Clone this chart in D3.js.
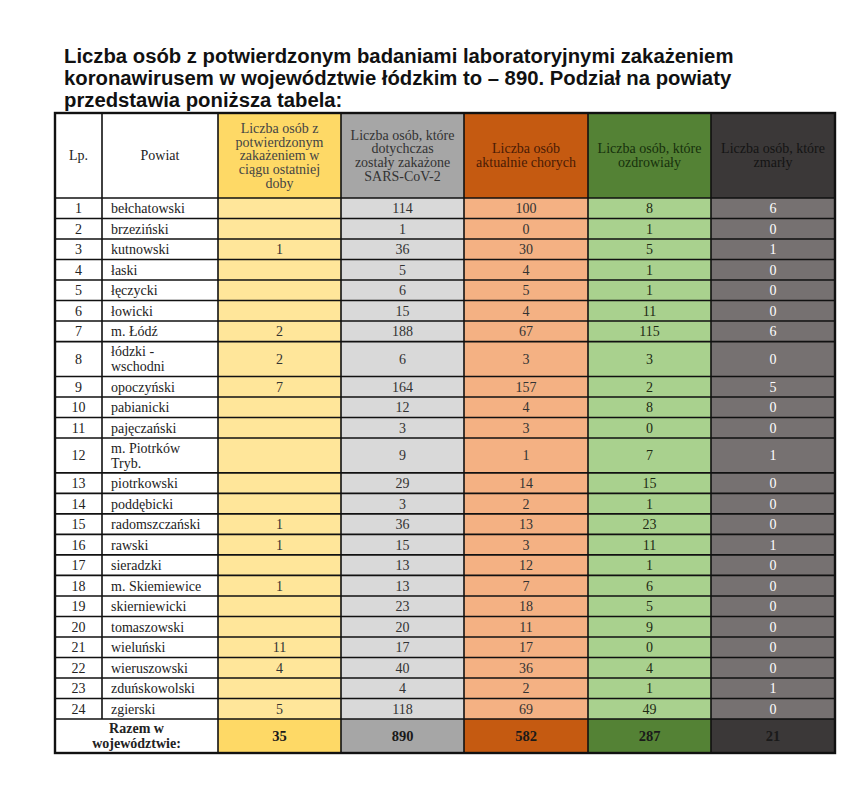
<!DOCTYPE html>
<html>
<head>
<meta charset="utf-8">
<script src="https://cdn.jsdelivr.net/npm/d3@7"></script>
<style>
  body { margin: 0; background: #fff; }
  svg { display: block; }
</style>
</head>
<body>
<svg width="852" height="790"></svg>
<script>
(function(){
	'use strict';

	// title lines
	const titleLines = [
		'Liczba osób z potwierdzonym badaniami laboratoryjnymi zakażeniem',
		'koronawirusem w województwie łódzkim to – 890. Podział na powiaty',
		'przedstawia poniższa tabela:'
	];

	// column headers (one entry per line)
	const headers = [
		['Lp.'],
		['Powiat'],
		['Liczba osób z', 'potwierdzonym', 'zakażeniem w', 'ciągu ostatniej', 'doby'],
		['Liczba osób, które', 'dotychczas', 'zostały zakażone', 'SARS-CoV-2'],
		['Liczba osób', 'aktualnie chorych'],
		['Liczba osób, które', 'ozdrowiały'],
		['Liczba osób, które', 'zmarły']
	];

	const powiaty = [
		'bełchatowski', 'brzeziński', 'kutnowski', 'łaski', 'łęczycki', 'łowicki',
		'm. Łódź', 'łódzki -|wschodni', 'opoczyński', 'pabianicki', 'pajęczański',
		'm. Piotrków|Tryb.', 'piotrkowski', 'poddębicki', 'radomszczański', 'rawski',
		'sieradzki', 'm. Skiemiewice', 'skierniewicki', 'tomaszowski', 'wieluński',
		'wieruszowski', 'zduńskowolski', 'zgierski'
	];
	const ostatniaDoba = [null, null, 1, null, null, null, 2, 2, 7, null, null, null,
		null, null, 1, 1, null, 1, null, null, 11, 4, null, 5];
	const zakazone = [114, 1, 36, 5, 6, 15, 188, 6, 164, 12, 3, 9, 29, 3, 36, 15, 13, 13, 23, 20, 17, 40, 4, 118];
	const chorzy = [100, 0, 30, 4, 5, 4, 67, 3, 157, 4, 3, 1, 14, 2, 13, 3, 12, 7, 18, 11, 17, 36, 2, 69];
	const ozdrowiali = [8, 1, 5, 1, 1, 11, 115, 3, 2, 8, 0, 7, 15, 1, 23, 11, 1, 6, 5, 9, 0, 4, 1, 49];
	const zmarli = [6, 0, 1, 0, 0, 0, 6, 0, 5, 0, 0, 1, 0, 0, 0, 1, 0, 0, 0, 0, 0, 0, 1, 0];
	const razem = [35, 890, 582, 287, 21];

	const svg = d3.select('svg');

	// layout
	const colEdges = [55, 102, 218, 341, 464, 588, 711, 835];
	const tableTop = 113;
	const headerBottom = 198;
	const bodyBottom = 719;
	const tableBottom = 753;

	const headFill = ['#fff', '#fff', '#fed966', '#a6a6a6', '#c55a11', '#548235', '#3b3838'];
	const bodyFill = ['#fff', '#fff', '#ffe69a', '#d9d9d9', '#f4b183', '#a9d18e', '#767171'];
	const headText = ['#222', '#222', '#444', '#333', '#4a1a05', '#16300c', '#141414'];
	const bodyText = ['#222', '#222', '#333', '#333', '#333', '#1e2a14', '#fff'];

	const serif = '"Liberation Serif", "Times New Roman", serif';

	// title
	svg.append('g')
		.selectAll('text')
		.data(titleLines)
		.join('text')
			.attr('x', 64)
			.attr('y', (d, i) => 63 + i * 22)
			.attr('font-family', '"Liberation Sans", Arial, sans-serif')
			.attr('font-weight', 'bold')
			.attr('font-size', 20.3)
			.attr('fill', '#111')
			.text(d => d);

	// rows: cumulative units so two-line names get taller rows
	const rows = powiaty.map((p, i) => ({
		lp: i + 1,
		lines: p.split('|'),
		vals: [ostatniaDoba[i], zakazone[i], chorzy[i], ozdrowiali[i], zmarli[i]],
		units: p.includes('|') ? 1.7 : 1
	}));
	let acc = 0;
	rows.forEach(r => { r.y0 = acc; acc += r.units; r.y1 = acc; });

	const y = d3.scaleLinear().domain([0, acc]).range([headerBottom, bodyBottom]);
	const colX = d3.scaleOrdinal().domain(d3.range(7)).range(colEdges.slice(0, 7));
	const colW = d3.scaleOrdinal().domain(d3.range(7)).range(d3.range(7).map(i => colEdges[i + 1] - colEdges[i]));
	const colMid = i => colX(i) + colW(i) / 2;

	// header cells
	const head = svg.append('g');
	head.selectAll('rect')
		.data(headers)
		.join('rect')
			.attr('x', (d, i) => colX(i))
			.attr('y', tableTop)
			.attr('width', (d, i) => colW(i))
			.attr('height', headerBottom - tableTop)
			.attr('fill', (d, i) => headFill[i]);

	head.selectAll('g.h')
		.data(headers)
		.join('g')
			.attr('class', 'h')
			.each(function(lines, i){
				const lh = 13.8;
				const cy = (tableTop + headerBottom) / 2;
				d3.select(this).selectAll('text')
					.data(lines)
					.join('text')
						.attr('x', colMid(i))
						.attr('y', (d, k) => cy + (k - (lines.length - 1) / 2) * lh + 4.8)
						.attr('text-anchor', 'middle')
						.attr('font-family', serif)
						.attr('font-size', 14)
						.attr('fill', headText[i])
						.text(d => d);
			});

	// body cells
	const body = svg.append('g');
	const rowG = body.selectAll('g.row')
		.data(rows)
		.join('g')
			.attr('class', 'row');

	rowG.selectAll('rect')
		.data(r => d3.range(7).map(i => ({ i, r })))
		.join('rect')
			.attr('x', d => colX(d.i))
			.attr('y', d => y(d.r.y0))
			.attr('width', d => colW(d.i))
			.attr('height', d => y(d.r.y1) - y(d.r.y0))
			.attr('fill', d => bodyFill[d.i]);

	const fs = 14;
	rowG.append('text')
		.attr('x', colMid(0))
		.attr('y', r => (y(r.y0) + y(r.y1)) / 2 + 4.9)
		.attr('text-anchor', 'middle')
		.attr('font-family', serif)
		.attr('font-size', fs)
		.attr('fill', bodyText[0])
		.text(r => r.lp);

	rowG.append('g')
		.each(function(r){
			const lh = 15;
			const cy = (y(r.y0) + y(r.y1)) / 2;
			d3.select(this).selectAll('text')
				.data(r.lines)
				.join('text')
					.attr('x', colX(1) + 9)
					.attr('y', (d, k) => cy + (k - (r.lines.length - 1) / 2) * lh + 4.9)
					.attr('font-family', serif)
					.attr('font-size', fs)
					.attr('fill', bodyText[1])
					.text(d => d);
		});

	rowG.selectAll('text.v')
		.data(r => r.vals.map((v, k) => ({ v, i: k + 2, r })))
		.join('text')
			.attr('class', 'v')
			.attr('x', d => colMid(d.i))
			.attr('y', d => (y(d.r.y0) + y(d.r.y1)) / 2 + 4.9)
			.attr('text-anchor', 'middle')
			.attr('font-family', serif)
			.attr('font-size', fs)
			.attr('fill', d => bodyText[d.i])
			.text(d => d.v === null ? '' : d.v);

	// total row
	const tot = svg.append('g');
	tot.append('rect')
		.attr('x', colX(0))
		.attr('y', bodyBottom)
		.attr('width', colEdges[2] - colEdges[0])
		.attr('height', tableBottom - bodyBottom)
		.attr('fill', '#fff');
	tot.selectAll('rect.t')
		.data(razem)
		.join('rect')
			.attr('class', 't')
			.attr('x', (d, k) => colX(k + 2))
			.attr('y', bodyBottom)
			.attr('width', (d, k) => colW(k + 2))
			.attr('height', tableBottom - bodyBottom)
			.attr('fill', (d, k) => headFill[k + 2]);
	tot.selectAll('text.l')
		.data(['Razem w', 'województwie:'])
		.join('text')
			.attr('class', 'l')
			.attr('x', (colEdges[0] + colEdges[2]) / 2)
			.attr('y', (d, k) => (bodyBottom + tableBottom) / 2 + (k - 0.5) * 14.5 + 4.6)
			.attr('text-anchor', 'middle')
			.attr('font-family', serif)
			.attr('font-weight', 'bold')
			.attr('font-size', 14)
			.attr('fill', '#222')
			.text(d => d);
	tot.selectAll('text.t')
		.data(razem)
		.join('text')
			.attr('class', 't')
			.attr('x', (d, k) => colMid(k + 2))
			.attr('y', (bodyBottom + tableBottom) / 2 + 5)
			.attr('text-anchor', 'middle')
			.attr('font-family', serif)
			.attr('font-weight', 'bold')
			.attr('font-size', 14.5)
			.attr('fill', '#1a1a1a')
			.text(d => d);

	// grid lines
	const grid = svg.append('g')
		.attr('stroke', '#111')
		.attr('fill', 'none');
	const hLines = [headerBottom].concat(rows.map(r => y(r.y1)));
	grid.selectAll('line.h')
		.data(hLines)
		.join('line')
			.attr('x1', colEdges[0])
			.attr('x2', colEdges[7])
			.attr('y1', d => d)
			.attr('y2', d => d)
			.attr('stroke-width', 1.6);
	grid.selectAll('line.v')
		.data(colEdges.slice(1, 7))
		.join('line')
			.attr('class', 'v')
			.attr('x1', d => d)
			.attr('x2', d => d)
			.attr('y1', tableTop)
			.attr('y2', (d, i) => i === 0 ? bodyBottom : tableBottom)
			.attr('stroke-width', 1.6);
	grid.append('rect')
		.attr('x', colEdges[0])
		.attr('y', tableTop)
		.attr('width', colEdges[7] - colEdges[0])
		.attr('height', tableBottom - tableTop)
		.attr('stroke-width', 2.4);
})();
</script>
</body>
</html>
